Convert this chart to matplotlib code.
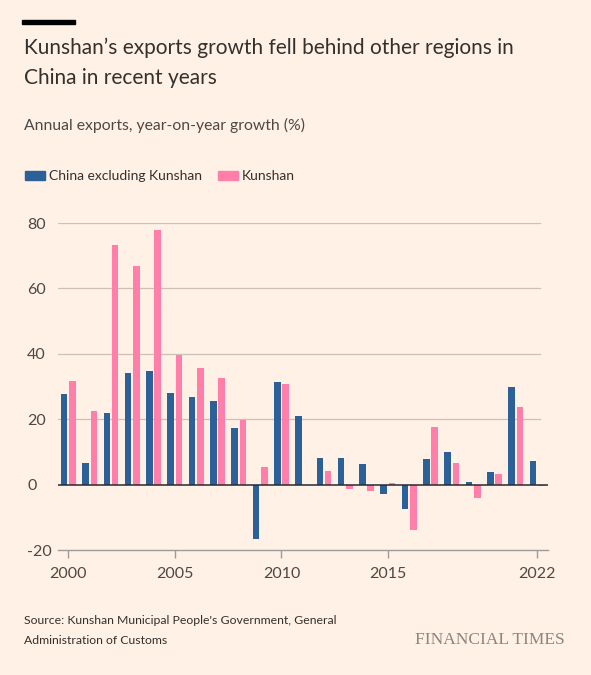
import numpy as np
import matplotlib.pyplot as plt

years = np.arange(2000, 2023)
china_ex_kunshan = [27.8, 6.7, 21.8, 34.1, 34.7, 28.1, 26.9, 25.7, 17.2, -16.5, 31.3, 21.0,
                    8.1, 8.1, 6.3, -2.9, -7.5, 7.8, 10.0, 0.8, 3.8, 30.0, 7.1]
kunshan = [31.7, 22.6, 73.3, 66.8, 77.8, 39.7, 35.8, 32.6, 19.7, 5.5, 30.9, np.nan,
           4.2, -1.4, -1.9, 0.4, -13.8, 17.7, 6.6, -4.0, 3.2, 23.7, -0.5]
yticks = [-20, 0, 20, 40, 60, 80]
xticks = [2000, 2005, 2010, 2015, 2022]

bg = '#FFF1E5'
blue = '#2B6098'
pink = '#FF7FAA'
text_col = '#33302E'
grid_col = '#CCC1B7'

plt.rcParams['font.family'] = ['Lato', 'DejaVu Sans']

fig = plt.figure(figsize=(5.91, 6.75), dpi=100, facecolor=bg)
ax = fig.add_axes([57.7 / 591, 125 / 675, 490 / 591, 327 / 675])
ax.set_facecolor(bg)

w = 0.31
ax.bar(years - 0.195, china_ex_kunshan, width=w, color=blue, zorder=3)
ax.bar(years + 0.195, kunshan, width=w, color=pink, zorder=3)

ax.set_xlim(1999.5, 2022.5)
ax.set_ylim(-20, 80)

for y in yticks[2:]:
    ax.axhline(y, xmax=(540 - 57.7) / 490, color=grid_col, lw=0.9, zorder=1)
ax.axhline(0, color='#262A33', lw=1.1, zorder=4)

for s in ['top', 'right', 'left']:
    ax.spines[s].set_visible(False)
ax.spines['bottom'].set_color('#A09A94')
ax.spines['bottom'].set_linewidth(1.0)

ax.set_xticks(xticks)
ax.set_xticklabels([str(x) for x in xticks])
ax.tick_params(axis='x', length=6, width=1, color='#A09A94', labelsize=11.5,
               labelcolor='#4D4845', pad=6)
ax.set_yticks(yticks)
ax.set_yticklabels([str(y) for y in yticks])
ax.tick_params(axis='y', length=0, labelsize=11.5, labelcolor='#4D4845', pad=0)
for lab in ax.get_yticklabels():
    lab.set_horizontalalignment('left')
    lab.set_x(-(57.7 - 27) / 490)

# header
fig.patches.append(plt.Rectangle((22 / 591, 1 - 24 / 675), 53 / 591, 4 / 675,
                                 transform=fig.transFigure, color='black'))
fig.text(24 / 591, 1 - 48 / 675, "Kunshan\u2019s exports growth fell behind other regions in",
         fontsize=15.0, color=text_col, va='center')
fig.text(24 / 591, 1 - 78 / 675, "China in recent years",
         fontsize=15.0, color=text_col, va='center')
fig.text(24 / 591, 1 - 125 / 675, "Annual exports, year-on-year growth (%)",
         fontsize=11.3, color='#4D4845', va='center')

# legend
fig.patches.append(plt.Rectangle((25 / 591, 1 - 180 / 675), 20 / 591, 9 / 675,
                                 transform=fig.transFigure, color=blue))
fig.text(49 / 591, 1 - 175.5 / 675, "China excluding Kunshan", fontsize=10,
         color=text_col, va='center')
fig.patches.append(plt.Rectangle((218 / 591, 1 - 180 / 675), 20 / 591, 9 / 675,
                                 transform=fig.transFigure, color=pink))
fig.text(242 / 591, 1 - 175.5 / 675, "Kunshan", fontsize=10, color=text_col, va='center')

# footer
fig.text(24 / 591, 1 - 620 / 675, "Source: Kunshan Municipal People's Government, General",
         fontsize=8.8, color=text_col, va='center')
fig.text(24 / 591, 1 - 641 / 675, "Administration of Customs",
         fontsize=8.8, color=text_col, va='center')
fig.text(565 / 591, 1 - 640 / 675, "FINANCIAL TIMES", fontsize=12.5, color='#8C8480',
         family=['Liberation Serif', 'DejaVu Serif'], ha='right', va='center')

fig.savefig('out.png', dpi=100, facecolor=bg)
